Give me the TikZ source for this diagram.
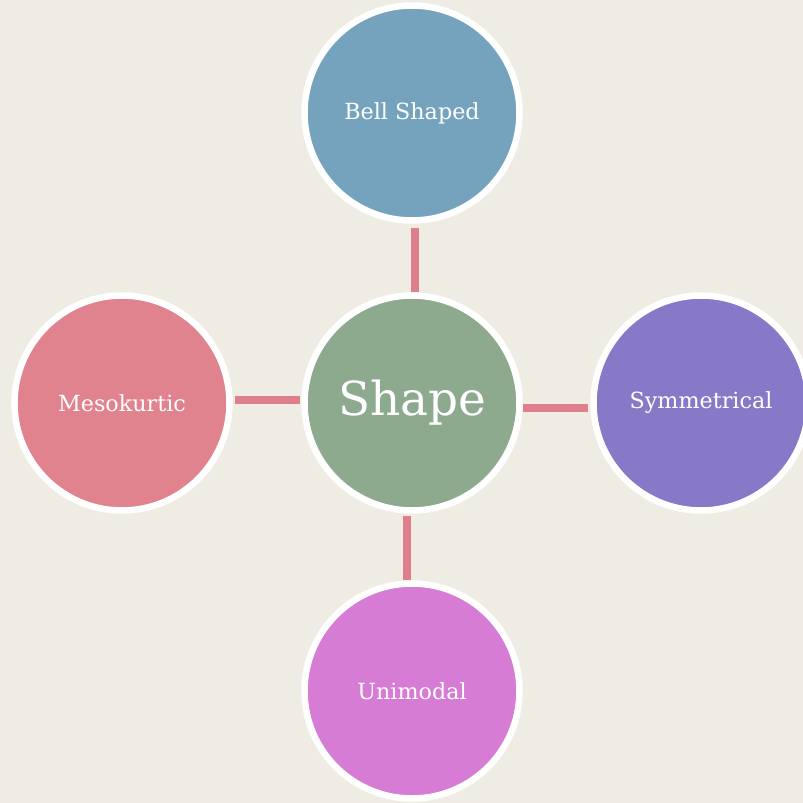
\documentclass[tikz,border=0pt]{standalone}
\usepackage{fontspec}
\newfontfamily\slabfont{DejaVu Serif}
\usepackage{tikz}
\usetikzlibrary{positioning, calc}
\definecolor{bgcol}{HTML}{EFECE4}
\definecolor{hubgreen}{HTML}{8DAA8F}
\definecolor{bellblue}{HTML}{75A3BD}
\definecolor{symviolet}{HTML}{8879C8}
\definecolor{mesopink}{HTML}{E0838F}
\definecolor{unimauve}{HTML}{D67CD4}
\definecolor{linkpink}{HTML}{E07F8C}

\begin{document}
\begin{tikzpicture}
[x=0.03cm, y=-0.03cm,
 bubble/.style={circle, draw=white, line width=6.5*0.03cm, inner sep=0pt,
   minimum size=215*0.03cm, text=white, font=\slabfont\fontsize{19}{22}\selectfont},
 hub/.style={bubble, fill=hubgreen, font=\slabfont\fontsize{40}{44}\selectfont},
 link/.style={draw=linkpink, line width=8*0.03cm}]

% background
\fill[bgcol] (0,0) rectangle (803,803);
\useasboundingbox (0,0) rectangle (803,803);
\clip (0,0) rectangle (803,803);

% centre and its four satellites
\node[hub] (shape) at (412,403) {Shape};
\node[bubble, fill=bellblue] (bell) at (412,113) {Bell Shaped};
\node[bubble, fill=symviolet] (sym) at (701,403) {Symmetrical};
\node[bubble, fill=mesopink] (meso) at (122,403) {Mesokurtic};
\node[bubble, fill=unimauve] (uni) at (412,691) {Unimodal};

% connectors
\draw[link] ($(bell.south)+(3,4)$) -- ($(shape.north)+(3,0)$);
\draw[link] ($(shape.east)+(0,5)$) -- ($(sym.west)+(-2,5)$);
\draw[link] ($(meso.east)+(2,-3)$) -- ($(shape.west)+(-1,-3)$);
\draw[link] ($(shape.south)+(-5,2)$) -- ($(uni.north)+(-5,0)$);

\end{tikzpicture}
\end{document}
